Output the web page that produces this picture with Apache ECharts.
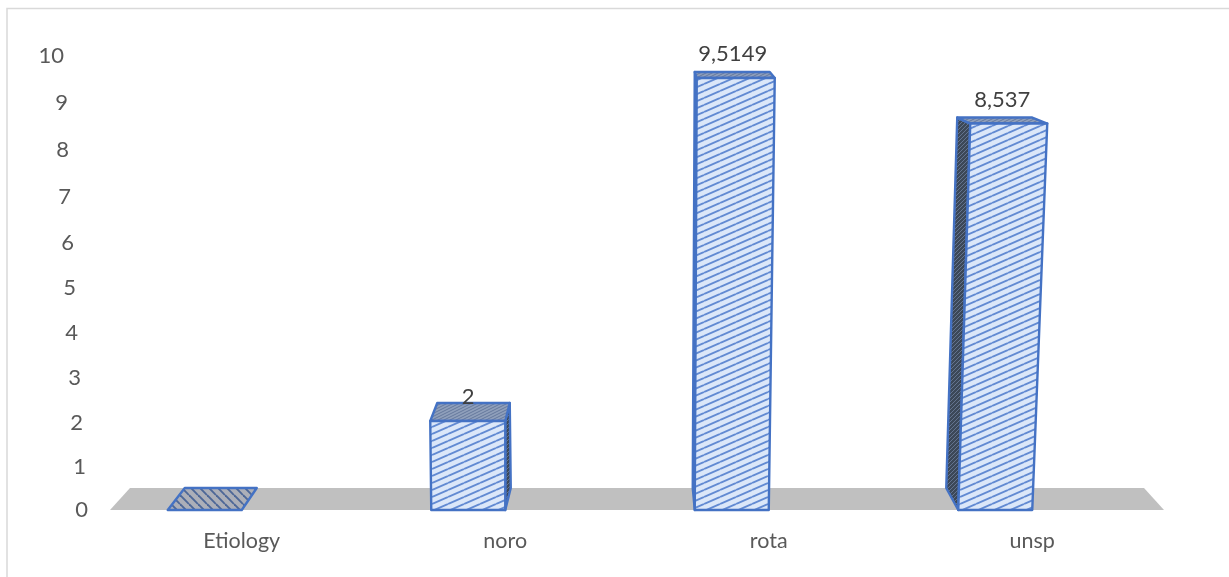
<!DOCTYPE html>
<html>
<head>
<meta charset="utf-8">
<style>html,body{margin:0;padding:0;background:#fff}#c{width:1229px;height:577px}</style>
<script src="https://cdn.jsdelivr.net/npm/echarts@6/dist/echarts.min.js"></script>
</head>
<body>
<div id="c"></div>
<script>
var categories = ['Etiology', 'noro', 'rota', 'unsp'];
var values = [0, 2, 9.5149, 8.537];
var dataLabels = ['', '2', '9,5149', '8,537'];
var yTicks = [0, 1, 2, 3, 4, 5, 6, 7, 8, 9, 10];

// Perspective styling (pixels), not data
var labelLeft = [0, 2, 5, 7, 10, 12, 14, 17, 19, 20, 24];
var labelDown = [0, 2.5, 4, 4.5, 5, 5.5, 6, 5.5, 4, 2.5, 0.5];
var FRONT_W = 74, FLOOR_D = 22;
var persp = [
  { tl: 0, tr: 0, btl: 17, btr: 15, drop: 0, dTop: 22, bbl: 0, bbr: 0, lx: 0, ly: 0 },
  { tl: -1, tr: 0, btl: 6, btr: 4.5, drop: 2, dTop: 18, bbl: 0, bbr: 5.5, lx: -37, ly: -6 },
  { tl: 2, tr: 6, btl: 0, btr: 1, drop: 1, dTop: 6, bbl: -2, bbr: 0, lx: -36, ly: -18 },
  { tl: 12, tr: 15, btl: -1, btr: 0, drop: 2, dTop: 6, bbl: -12, bbr: 0, lx: -30, ly: -18 }
];

function hatch(w, h, bg, fg, lw, down) {
  var c = document.createElement('canvas');
  c.width = w; c.height = h;
  var g = c.getContext('2d');
  if (bg) { g.fillStyle = bg; g.fillRect(0, 0, w, h); }
  g.strokeStyle = fg; g.lineWidth = lw;
  for (var k = -1; k <= 1; k++) {
    g.beginPath();
    if (down) { g.moveTo(0, k * h); g.lineTo(w, (k + 1) * h); }
    else { g.moveTo(0, (k + 1) * h); g.lineTo(w, k * h); }
    g.stroke();
  }
  return { image: c, repeat: 'repeat' };
}
var fillFront = hatch(16, 7, '#dbe7f9', '#628ad2', 1.9, false);
var fillTop = hatch(6, 3, '#8f9fbb', '#66799d', 1, false);
var fillDark = hatch(4, 4, '#3c4858', '#64748f', 1, false);
var fillFlat = hatch(9, 9, 'rgba(110,125,160,0.25)', '#4d6797', 1.9, true);
var EDGE = '#4472c4';

function poly(points, fill) {
  return {
    type: 'polygon',
    shape: { points: points },
    style: { fill: fill, stroke: EDGE, lineWidth: 2.4, lineJoin: 'round' }
  };
}

function renderFloor(params, api) {
  var cs = params.coordSys;
  var y0 = api.coord([0, 0])[1];
  var L = cs.x, R = cs.x + cs.width;
  return {
    type: 'polygon',
    shape: { points: [[L, y0], [L + 20, y0 - FLOOR_D], [R - 20, y0 - FLOOR_D], [R, y0]] },
    style: { fill: '#c0c0c0' }
  };
}

function renderBar(params, api) {
  var i = api.value(0), v = api.value(1), p = persp[i];
  var base = api.coord([i, 0]);
  var top = api.coord([i, v]);
  var R = base[0], L = R - FRONT_W, y0 = base[1];
  var yT = top[1] + p.drop, yB = yT - p.dTop;
  var fbl = [L, y0], fbr = [R, y0];
  var ftl = [L + p.tl, yT], ftr = [R + p.tr, yT];
  var btl = [L + p.btl, yB], btr = [R + p.btr, yB];
  var kids = [];
  if (p.bbl < 0) kids.push(poly([[L + p.bbl, y0 - FLOOR_D], btl, ftl, fbl], fillDark));
  if (p.bbr > 0) kids.push(poly([fbr, ftr, btr, [R + p.bbr, y0 - FLOOR_D]], fillDark));
  if (v > 0) {
    kids.push(poly([ftl, btl, btr, ftr], fillTop));
    kids.push(poly([fbl, ftl, ftr, fbr], fillFront));
    kids.push({
      type: 'text',
      style: {
        text: dataLabels[i],
        x: R + p.lx,
        y: yB + p.ly,
        align: 'center', verticalAlign: 'middle',
        font: '22px Lato', fill: '#404040'
      },
      z2: 10
    });
  } else {
    kids.push(poly([ftl, btl, btr, ftr], fillFlat));
  }
  return { type: 'group', children: kids };
}

var rich = {};
yTicks.forEach(function (t, i) {
  rich['t' + t] = {
    fontFamily: 'Lato', fontSize: 22, color: '#595959',
    padding: [labelDown[i] * 2, labelLeft[i], 0, 0]
  };
});

var chart = echarts.init(document.getElementById('c'), null, { renderer: 'canvas' });
chart.setOption({
  animation: false,
  backgroundColor: '#fff',
  graphic: [{
    type: 'polyline',
    shape: { points: [[7, 577], [7, 8.5], [1229, 8.5]] },
    style: { fill: 'none', stroke: '#d9d9d9', lineWidth: 1.5 },
    silent: true, z: -1
  }],
  grid: { left: 110, right: 65, top: 55, height: 455, containLabel: false },
  xAxis: {
    type: 'category',
    data: categories,
    axisLine: { show: false },
    axisTick: { show: false },
    axisLabel: { fontFamily: 'Lato', fontSize: 21.5, color: '#595959', margin: 20 }
  },
  yAxis: {
    type: 'value',
    min: 0, max: 10, interval: 1,
    splitLine: { show: false },
    axisLine: { show: false },
    axisTick: { show: false },
    axisLabel: {
      margin: 22,
      align: 'right',
      formatter: function (v) { return '{t' + v + '|' + v + '}'; },
      rich: rich
    }
  },
  series: [
    { type: 'custom', name: 'floor', renderItem: renderFloor, data: [[0, 0]], encode: { x: 0, y: 1 }, z: 1, silent: true },
    {
      type: 'custom', name: 'bars', renderItem: renderBar,
      data: categories.map(function (c, i) { return [i, values[i]]; }),
      encode: { x: 0, y: 1 }, z: 2, silent: true
    }
  ]
});
</script>
</body>
</html>
